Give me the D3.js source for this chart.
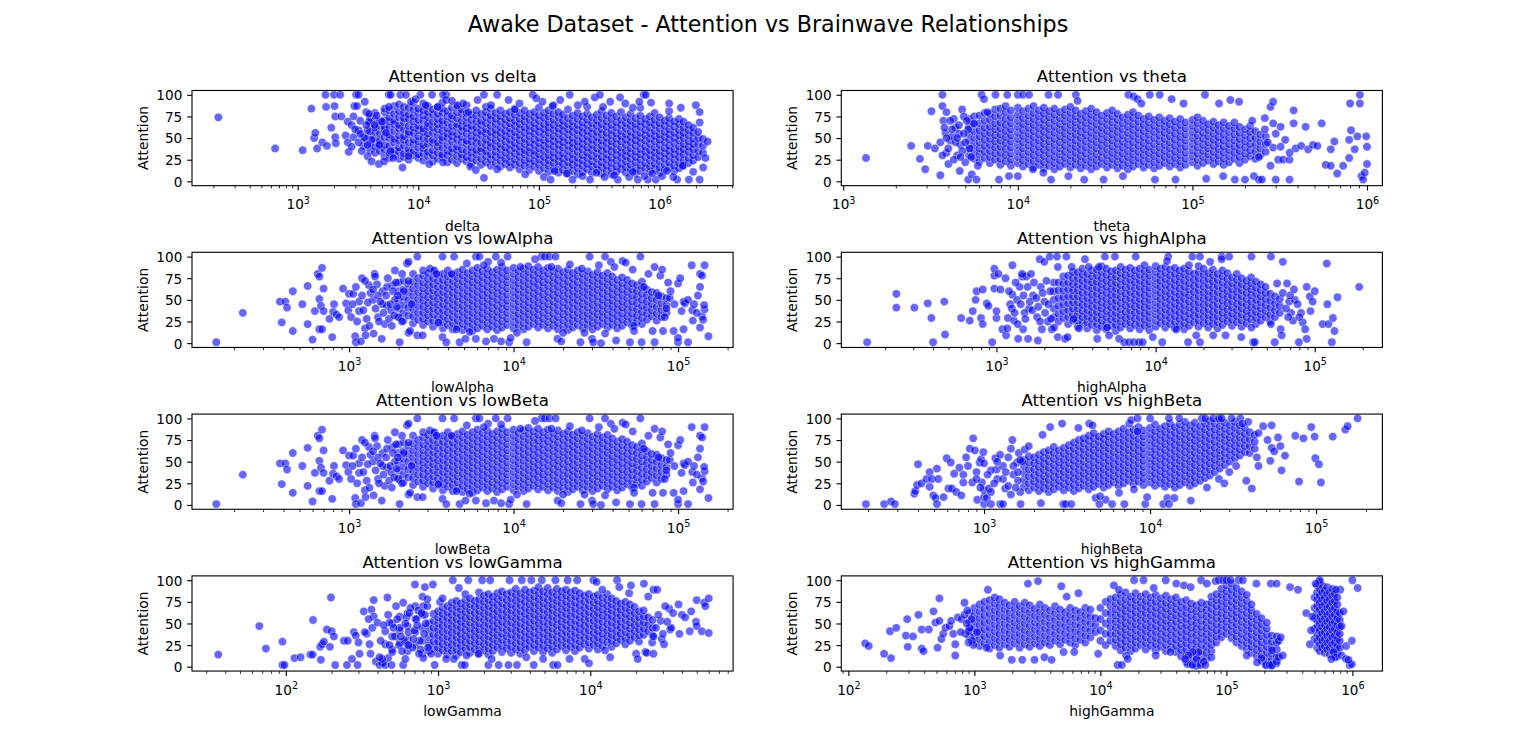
<!DOCTYPE html>
<html><head><meta charset="utf-8">
<script src="https://cdn.jsdelivr.net/npm/d3@7"></script>
<style>body{margin:0;background:#fff}svg{display:block}text{font-family:'DejaVu Sans',sans-serif}</style>
</head><body><script>
// ---------------- data (read / estimated from the reference) ----------------
const suptitle = "Awake Dataset - Attention vs Brainwave Relationships";
const bandNames = ["delta","theta","lowAlpha","highAlpha","lowBeta","highBeta","lowGamma","highGamma"];
const yTicks = [0,25,50,75,100];
const yDomain = [-5,105];
const xDomains = {
  delta:[133,4.07e6], theta:[975,1.225e6], lowAlpha:[111,2.16e5], highAlpha:[106,2.66e5],
  lowBeta:[111,2.16e5], highBeta:[138,2.51e5], lowGamma:[24.2,8.67e4], highGamma:[87.9,1.73e6]
};

// isolated points: [band value, Attention]
const deltaScatter = [
[2.2e2,74],[6.5e2,38],[1.1e3,36],[1.3e3,84],[1.37e3,50],[1.4e3,56],[1.45e3,38],[1.6e3,45],[1.7e3,100],[1.72e3,86],[1.75e3,41],[1.9e3,62],[2.0e3,100],[2.02e3,87],[2.05e3,75],[2.05e3,51],[2.07e3,44],[2.25e3,100],[2.3e3,75],[2.5e3,53],[2.65e3,34],[2.6e3,69],[2.8e3,65],[2.9e3,51],[2.95e3,87],[3.05e3,100],[3.2e3,100],[3.1e3,87],[3.2e3,59],[3.5e3,51],[3.5e3,41],[3.6e3,92],[3.7e3,80],[3.8e3,29],[3.8e3,59],[3.9e3,69],[4.1e3,23],[4.1e3,48],[4.35e3,65],[4.5e3,76],[4.7e3,20],[4.75e3,42],[5.0e3,69],[5.2e3,23],[5.4e3,56],[5.7e3,100],[5.9e3,100],[5.7e3,86],[5.9e3,35],[6.2e3,27],[7.1e3,100],[7.4e3,16],[7.9e3,100],[8.3e3,29],[8.7e3,92],[1.04e4,100],[1.23e4,20],[1.3e4,100],[1.45e4,86],[1.6e4,22],[1.7e4,100],[1.6e4,100],[1.7e4,94],[2.1e4,88],[2.6e4,80],[2.7e4,17],[3.0e4,13],[3.1e4,94],[3.5e4,4],[3.5e4,100],[4.5e4,100],[4.5e4,14],[5.6e4,94],[6.3e4,83],[7.7e4,8],[8.9e4,100],[1.07e5,92],[1.1e5,5],[1.25e5,2],[1.5e5,94],[1.8e5,100],[1.9e5,2],[2.4e5,92],[2.65e5,2],[2.9e5,97],[3.2e5,100],[3.5e5,5],[3.9e5,92],[4.5e5,2],[4.7e5,97],[5.6e5,5],[6.6e5,2],[6.8e5,92],[7.4e5,100],[7.7e5,100],[8.0e5,2],[9.3e5,2],[1.05e6,6],[1.4e6,2],[1.75e6,2],[2.15e6,2],[2.0e6,88],[2.15e6,80],[2.15e6,68],[2.5e6,46],[2.4e6,27],[2.3e6,16],[1.9e6,11],[1.55e6,18],
[9.5e3,95],[1.15e4,88],[1.9e4,93],[2.35e4,90],[4.0e4,88],[6.9e4,90],[9.5e4,96],[1.3e5,87],[2.1e5,88],[3.4e5,86],[5.2e5,90],[6.0e5,85],[8.5e5,91],[1.2e6,90],[1.5e6,85],
[1.35e5,12],[1.7e5,9],[2.3e5,6],[3.0e5,10],[4.2e5,7],[6.0e5,11],[7.5e5,6],[8.7e5,9],[1.15e6,12],[1.3e6,5],
[2.6e3,45],[2.8e3,40],[3.0e3,60],[3.2e3,45],[3.3e3,70],[3.4e3,35],[3.6e3,50],[3.7e3,65],[3.8e3,42],[3.9e3,78],[3.3e3,55],[2.9e3,75]
];
// dense cloud, listed as [band value, [Attention values at that value]]
const deltaColumns = [
[3.98e3,[36,44,53,58,67,74]],[4.37e3,[33,40,49,57,62,71,79]],[4.79e3,[35,43,47,55,64,70]],[5.25e3,[29,37,42,51,59,63,71,80,84]],
[5.75e3,[27,33,41,50,54,62,69,74,82]],[6.31e3,[31,36,45,49,58,66,70,78,87]],[6.92e3,[26,34,39,47,53,61,65,74,81,89]],
[7.59e3,[28,32,41,48,52,60,68,73,79,86]],[8.32e3,[25,33,37,45,54,57,64,72,77,85]],[9.12e3,[30,35,43,48,56,62,69,75,83,91]],
[1.0e4,[27,31,39,46,52,59,64,71,79,84]],[1.1e4,[24,32,38,42,50,57,61,70,76,82,90]],[1.2e4,[29,34,43,49,55,63,67,74,80,87]],
[1.32e4,[23,30,36,44,48,56,62,69,77,83]],[1.45e4,[26,33,40,45,53,60,66,72,78,86]],[1.58e4,[28,31,39,47,51,58,65,70,79,84,91]],
[1.74e4,[22,30,35,42,50,55,61,68,75,81]],[1.9e4,[25,33,38,46,52,57,64,72,76,85]],[2.09e4,[21,29,36,40,48,54,62,66,73,80,87]],
[2.29e4,[26,31,37,45,51,58,63,70,78,83]],[2.51e4,[23,28,35,43,47,55,61,67,74,79,88]],[2.75e4,[20,27,33,39,46,52,59,64,71,77]],
[3.02e4,[24,31,36,44,50,56,62,69,76,82]],[3.31e4,[19,26,34,38,45,53,58,65,70,78]],[3.63e4,[22,29,35,42,48,55,60,67,74,80,86]],
[3.98e4,[18,25,31,39,44,51,57,64,71,76,84]],[4.37e4,[21,28,34,40,47,54,59,66,72,79]],[4.79e4,[17,24,30,37,43,50,56,62,69,75,82]],
[5.25e4,[20,26,33,39,46,52,58,65,71,78]],[5.75e4,[16,22,29,36,42,48,55,61,67,73,80]],[6.31e4,[19,25,32,38,44,51,57,64,70,77,84]],
[6.92e4,[14,21,28,34,40,47,53,60,66,72,79]],[7.59e4,[18,24,31,36,43,49,56,62,69,75,82]],[8.32e4,[13,20,26,33,39,45,52,58,64,71,78]],
[9.12e4,[17,23,30,35,42,48,55,61,67,74,80]],[1.0e5,[12,19,25,31,38,44,50,57,63,70,76,85]],[1.1e5,[15,22,28,35,41,47,54,60,66,73,79]],
[1.2e5,[11,18,24,30,37,43,49,56,62,68,75,82]],[1.32e5,[14,21,27,33,40,46,52,59,65,71,78,88]],[1.45e5,[10,17,23,29,36,42,48,55,61,67,74,80]],
[1.58e5,[13,20,26,32,39,45,51,58,64,70,77]],[1.74e5,[9,16,22,28,35,41,47,54,60,66,73,83]],[1.9e5,[12,19,25,31,38,44,50,57,63,69,76]],
[2.09e5,[8,15,21,27,34,40,46,53,59,65,72,79]],[2.29e5,[11,18,24,30,37,43,49,56,62,68,75]],[2.51e5,[14,20,27,33,39,46,52,58,65,71,78,86]],
[2.75e5,[10,17,23,29,36,42,48,55,61,67,74]],[3.02e5,[13,19,26,32,38,45,51,57,64,70,77]],[3.31e5,[9,16,22,28,35,41,47,54,60,66,73,81]],
[3.63e5,[12,18,25,31,37,44,50,56,63,69,76]],[3.98e5,[8,15,21,27,34,40,46,53,59,65,72,79]],[4.37e5,[11,17,24,30,36,43,49,55,62,68,75]],
[4.79e5,[14,20,27,33,39,46,52,58,65,71,80]],[5.25e5,[10,16,23,29,35,42,48,54,61,67,74]],[5.75e5,[13,19,26,32,38,45,51,57,64,70,78]],
[6.31e5,[9,15,22,28,34,41,47,53,60,66,73]],[6.92e5,[12,18,25,31,37,44,50,56,63,69,76,85]],[7.59e5,[15,21,28,34,40,47,53,59,66,72]],
[8.32e5,[11,17,24,30,36,43,49,55,62,68,75]],[9.12e5,[14,20,27,33,39,46,52,58,65,71,79]],[1.0e6,[10,16,23,29,35,42,48,54,61,67,74]],
[1.1e6,[13,19,26,32,38,45,51,57,64,70]],[1.2e6,[16,22,29,35,41,48,54,60,67,73,81]],[1.32e6,[12,18,25,31,37,44,50,56,63,69]],
[1.45e6,[15,21,28,34,40,47,53,59,66,72]],[1.58e6,[18,24,31,37,43,50,56,62,69]],[1.74e6,[21,27,34,40,46,53,59,65]],
[1.9e6,[24,30,37,43,49,56,62]],[2.09e6,[28,35,43,50,57]],[2.29e6,[33,41,49]]
];

const thetaScatter = [
[1.35e3,27],[2.45e3,41],[2.75e3,26],[2.95e3,14],[3.05e3,41],[3.2e3,81],[3.35e3,38],[3.6e3,7],[3.7e3,87],[3.7e3,100],[3.75e3,70],[3.85e3,56],[3.9e3,80],[4.0e3,20],[4.1e3,47],[4.4e3,62],[4.65e3,12],[4.8e3,83],[5.0e3,22],[5.2e3,2],[5.3e3,38],[5.45e3,8],[5.6e3,67],[5.8e3,2],[5.9e3,18],[6.2e3,100],[6.4e3,95],[6.7e3,80],[7.45e3,100],[7.8e3,2],[8.7e3,100],[8.9e3,6],[1.0e4,100],[1.0e4,6],[1.07e4,100],[1.16e4,100],[1.22e4,14],[1.4e4,10],[1.5e4,100],[1.55e4,2],[1.7e4,100],[1.95e4,6],[2.15e4,100],[2.2e4,93],[2.4e4,2],[3.1e4,2],[4.0e4,6],[4.3e4,100],[4.6e4,98],[4.85e4,95],[5.1e4,90],[5.7e4,100],[6.1e4,2],[6.5e4,100],[7.6e4,95],[8.0e4,2],[8.9e4,90],[1.18e5,100],[1.2e5,3],[1.42e5,90],[1.5e5,6],[1.65e5,94],[1.75e5,2],[1.85e5,92],[2.0e5,2],[2.25e5,6],[2.4e5,2],[2.5e5,2],[2.8e5,86],[2.9e5,92],[3.0e5,2],[3.6e5,2],[3.8e5,82],[2.9e5,67],[2.6e5,73],[3.2e5,63],[3.8e5,67],[4.45e5,63],[2.9e5,39],[3.1e5,25],[3.3e5,25],[3.6e5,25],[2.8e5,18],[3.9e5,38],[4.2e5,41],[4.6e5,37],[4.9e5,42],[5.2e5,41],[5.5e5,67],[5.8e5,19],[6.2e5,18],[6.2e5,37],[6.5e5,46],[6.75e5,9],[7.3e5,18],[7.9e5,27],[8.0e5,90],[8.1e5,59],[8.5e5,37],[8.8e5,52],[9.1e5,100],[9.1e5,90],[9.3e5,6],[9.5e5,2],[9.7e5,10],[1.0e6,40],[1.0e6,20],[9.9e5,52],[7.9e5,48],
[4.3e3,72],[4.5e3,30],[4.6e3,55],[4.7e3,42],[4.9e3,75],[5.2e3,60],[5.4e3,28],[3.9e3,33],[4.2e3,52],
[2.2e5,70],[2.4e5,28],[2.7e5,45],[3.0e5,55],[3.4e5,48],[3.6e5,33],[2.6e5,60],[3.2e5,40],
[3.6e3,45],[3.8e3,62],[4.0e3,38],[4.1e3,70],[4.3e3,25],[4.4e3,45],[4.6e3,65],[4.8e3,35],[4.9e3,55],[5.0e3,45],[4.5e3,50],[4.2e3,60],[3.9e3,50],[4.7e3,28],[5.1e3,70],[3.7e3,30]
];
const thetaColumns = [
[5.25e3,[30,38,47,55,63,72]],[5.62e3,[26,34,42,50,58,66,75]],[6.03e3,[23,31,38,45,52,59,67,76]],[6.46e3,[27,34,41,48,55,62,70,79]],
[6.92e3,[21,28,35,42,49,56,63,71,78]],[7.41e3,[25,32,39,46,53,60,67,75,83]],[7.94e3,[19,26,33,40,47,54,61,68,76,84]],
[8.51e3,[23,30,37,44,51,58,65,72,80,87]],[9.12e3,[18,25,32,39,46,53,60,67,74,82]],[1.0e4,[21,28,35,42,49,56,63,70,77,85]],
[1.07e4,[17,24,31,38,45,52,59,66,73,81]],[1.15e4,[20,27,34,41,48,55,62,69,76,84]],[1.23e4,[16,23,30,37,44,51,58,65,72,79,87]],
[1.32e4,[19,26,33,40,47,54,61,68,75,82]],[1.41e4,[15,22,29,36,43,50,57,64,71,78,85]],[1.51e4,[18,25,32,39,46,53,60,67,74,81]],
[1.62e4,[14,21,28,35,42,49,56,63,70,77,84]],[1.74e4,[17,24,31,38,45,52,59,66,73,80]],[1.86e4,[20,27,34,41,48,55,62,69,76,83]],
[2.0e4,[16,23,30,37,44,51,58,65,72,79,86]],[2.14e4,[19,26,33,40,47,54,61,68,75,82]],[2.29e4,[15,22,29,36,43,50,57,64,71,78]],
[2.45e4,[18,25,32,39,46,53,60,67,74,81]],[2.63e4,[14,21,28,35,42,49,56,63,70,77,84]],[2.82e4,[17,24,31,38,45,52,59,66,73,80]],
[3.02e4,[20,27,34,41,48,55,62,69,76]],[3.24e4,[16,23,30,37,44,51,58,65,72,79]],[3.47e4,[19,26,33,40,47,54,61,68,75,82]],
[3.72e4,[15,22,29,36,43,50,57,64,71,78]],[3.98e4,[18,25,32,39,46,53,60,67,74]],[4.27e4,[14,21,28,35,42,49,56,63,70,77]],
[4.57e4,[17,24,31,38,45,52,59,66,73,80]],[4.9e4,[20,27,34,41,48,55,62,69,76]],[5.25e4,[16,23,30,37,44,51,58,65,72]],
[5.62e4,[19,26,33,40,47,54,61,68,75]],[6.03e4,[15,22,29,36,43,50,57,64,71]],[6.46e4,[18,25,32,39,46,53,60,67,74]],
[6.92e4,[21,28,35,42,49,56,63,70]],[7.41e4,[17,24,31,38,45,52,59,66,73]],[7.94e4,[20,27,34,41,48,55,62,69]],
[8.51e4,[16,23,30,37,44,51,58,65,72]],[9.12e4,[19,26,33,40,47,54,61,68]],[1.0e5,[22,29,36,43,50,57,64,71]],
[1.07e5,[18,25,32,39,46,53,60,67,74]],[1.15e5,[21,28,35,42,49,56,63,70]],[1.23e5,[24,31,38,45,52,59,66]],
[1.32e5,[20,27,34,41,48,55,62,69]],[1.41e5,[23,30,37,44,51,58,65]],[1.51e5,[19,26,33,40,47,54,61,68]],
[1.62e5,[22,29,36,43,50,57,64]],[1.74e5,[26,33,40,47,54,61,68]],[1.86e5,[21,28,35,42,49,56,63]],
[2.0e5,[25,32,39,46,53,60]],[2.14e5,[29,36,43,50,57,64]],[2.29e5,[26,34,42,50,58]],[2.45e5,[30,38,46,54]],[2.63e5,[34,43,52]]
];

const lowAlphaScatter = [
[1.56e2,1],[2.26e2,35],[3.8e2,48],[4.1e2,48],[4.2e2,41],[3.9e2,24],[4.55e2,14],[4.55e2,60],[5.2e2,45],[5.6e2,22],[5.6e2,66],[6.0e2,4],[6.2e2,37],[6.45e2,80],[6.6e2,77],[6.85e2,87],[6.6e2,16],[6.85e2,16],[6.6e2,51],[6.75e2,43],[7.0e2,63],[7.0e2,37],[7.6e2,28],[7.9e2,7],[8.1e2,45],[8.0e2,36],[8.4e2,33],[8.7e2,30],[9.2e2,63],[9.6e2,46],[1.0e3,57],[9.9e2,38],[1.03e3,30],[1.06e3,57],[1.09e3,8],[1.1e3,1],[1.15e3,37],[1.18e3,2],[1.15e3,48],[1.2e3,75],[1.25e3,17],[1.26e3,9],[1.28e3,28],[1.32e3,67],[1.4e3,50],[1.43e3,80],[1.44e3,77],[1.41e3,11],[1.5e3,30],[1.58e3,5],[1.6e3,60],[1.65e3,22],[1.7e3,43],[1.84e3,67],[1.9e3,84],[2.0e3,30],[2.03e3,1],[2.1e3,80],[2.25e3,92],[2.3e3,94],[2.3e3,12],[2.35e3,14],[2.6e3,100],[2.6e3,9],[2.8e3,9],[3.1e3,86],[3.3e3,84],[3.5e3,24],[3.7e3,100],[3.7e3,7],[3.9e3,1],[4.35e3,100],[4.5e3,16],[4.7e3,1],[5.1e3,5],[5.4e3,13],[5.9e3,100],[6.2e3,100],[5.9e3,5],[6.8e3,2],[7.0e3,94],[7.8e3,100],[7.6e3,5],[8.4e3,2],[9.2e3,100],[9.4e3,1],[9.6e3,6],[1.05e4,12],[1.2e4,1],[1.48e4,100],[1.55e4,100],[1.65e4,100],[1.8e4,100],[1.85e4,5],[1.95e4,2],[2.0e4,12],[2.55e4,1],[2.7e4,12],[2.9e4,100],[3.0e4,5],[3.05e4,1],[3.4e4,0],[3.6e4,100],[3.6e4,11],[4.2e4,3],[3.9e4,94],[4.6e4,95],[5.1e4,1],[5.4e4,20],[5.4e4,14],[5.9e4,100],[6.0e4,1],[6.2e4,65],[6.6e4,80],[7.2e4,1],[7.2e4,88],[7.8e4,78],[8.0e4,85],[7.0e4,14],[8.1e4,14],[8.9e4,52],[9.4e4,14],[1.0e5,1],[1.0e5,6],[1.0e5,69],[1.03e5,75],[1.05e5,37],[1.08e5,16],[1.08e5,48],[1.1e5,46],[1.15e5,1],[1.15e5,50],[1.21e5,90],[1.22e5,38],[1.23e5,26],[1.36e5,80],[1.36e5,65],[1.32e5,55],[1.36e5,18],[1.4e5,31],[1.45e5,90],[1.4e5,78],[1.45e5,39],[1.42e5,27],[1.53e5,8],[1.44e5,44],
[1.5e3,55],[1.7e3,65],[1.8e3,38],[1.9e3,50],[2.1e3,25],[2.15e3,60],[2.3e3,72],[2.4e3,45],[1.75e3,28],[1.6e3,45],
[3.4e3,80],[4.2e3,80],[5.2e3,92],[6.6e3,90],[8.4e3,93],[1.1e4,88],[1.35e4,97],[1.7e4,88],[2.2e4,91],[2.6e4,86],[3.3e4,90],[4.1e4,88],[5.3e4,85],[4.8e4,93],
[8.5e4,40],[9.0e4,60],[8.3e4,30],[9.5e4,45],[8.7e4,70],[1.25e5,45],[1.3e5,35],[7.6e4,55],
[1.05e3,45],[1.1e3,65],[1.12e3,25],[1.2e3,55],[1.22e3,38],[1.3e3,47],[1.33e3,20],[1.35e3,58],[1.45e3,40],[1.48e3,68],[1.52e3,25],[1.55e3,48],[1.62e3,35],[1.68e3,55],[1.72e3,75],[1.78e3,45],[1.82e3,20],[1.85e3,60],[1.88e3,32],[1.93e3,70],[1.95e3,42],[1.98e3,55],[1.4e3,62],[1.25e3,72]
];
const lowAlphaColumns = [
[2.0e3,[30,40,50,60,70]],[2.14e3,[26,35,44,53,62,72]],[2.29e3,[32,41,50,59,68]],[2.45e3,[23,31,39,47,55,63,71,80]],
[2.63e3,[27,35,43,51,59,67,75]],[2.82e3,[21,28,35,42,49,56,63,70,78,84]],[3.02e3,[25,32,39,46,53,60,67,74,81]],
[3.24e3,[19,26,33,40,47,54,61,68,75,83]],[3.47e3,[23,30,37,44,51,58,65,72,79]],[3.72e3,[17,24,31,38,45,52,59,66,73,80]],
[3.98e3,[21,28,35,42,49,56,63,70,77,84]],[4.27e3,[16,23,30,37,44,51,58,65,72,79]],[4.57e3,[19,26,33,40,47,54,61,68,75,82]],
[4.9e3,[15,22,29,36,43,50,57,64,71,78,85]],[5.25e3,[18,25,32,39,46,53,60,67,74,81]],[5.62e3,[14,21,28,35,42,49,56,63,70,77,84]],
[6.03e3,[17,24,31,38,45,52,59,66,73,80,87]],[6.46e3,[20,27,34,41,48,55,62,69,76,83]],[6.92e3,[16,23,30,37,44,51,58,65,72,79,86]],
[7.41e3,[19,26,33,40,47,54,61,68,75,82]],[7.94e3,[15,22,29,36,43,50,57,64,71,78,85]],[8.51e3,[18,25,32,39,46,53,60,67,74,81,88]],
[9.12e3,[21,28,35,42,49,56,63,70,77,84]],[1.0e4,[17,24,31,38,45,52,59,66,73,80,87]],[1.07e4,[20,27,34,41,48,55,62,69,76,83]],
[1.15e4,[16,23,30,37,44,51,58,65,72,79,86]],[1.23e4,[19,26,33,40,47,54,61,68,75,82,89]],[1.32e4,[22,29,36,43,50,57,64,71,78,85]],
[1.41e4,[18,25,32,39,46,53,60,67,74,81,88]],[1.51e4,[21,28,35,42,49,56,63,70,77,84]],[1.62e4,[17,24,31,38,45,52,59,66,73,80,87]],
[1.74e4,[20,27,34,41,48,55,62,69,76,83]],[1.86e4,[16,23,30,37,44,51,58,65,72,79,86]],[2.0e4,[19,26,33,40,47,54,61,68,75,82]],
[2.14e4,[15,22,29,36,43,50,57,64,71,78,85]],[2.29e4,[18,25,32,39,46,53,60,67,74,81]],[2.45e4,[21,28,35,42,49,56,63,70,77,84]],
[2.63e4,[17,24,31,38,45,52,59,66,73,80]],[2.82e4,[20,27,34,41,48,55,62,69,76,83]],[3.02e4,[16,23,30,37,44,51,58,65,72,79]],
[3.24e4,[19,26,33,40,47,54,61,68,75,82]],[3.47e4,[22,29,36,43,50,57,64,71,78]],[3.72e4,[18,25,32,39,46,53,60,67,74,81]],
[3.98e4,[21,28,35,42,49,56,63,70,77]],[4.27e4,[17,24,31,38,45,52,59,66,73]],[4.57e4,[20,27,34,41,48,55,62,69,76]],
[4.9e4,[24,31,38,45,52,59,66,73]],[5.25e4,[20,27,34,41,48,55,62,69]],[5.62e4,[25,32,39,46,53,60,67]],
[6.03e4,[22,29,36,43,50,57,64,71]],[6.46e4,[27,34,41,48,55,62]],[6.92e4,[31,38,45,52,59]],[7.41e4,[26,34,42,50,58]],
[7.94e4,[30,38,46,54]],[8.51e4,[35,44,52]]
];

const highAlphaScatter = [
[1.54e2,1],[2.35e2,57],[2.35e2,41],[3.05e2,41],[3.7e2,46],[3.9e2,29],[4.0e2,1],[4.7e2,48],[4.75e2,10],[6.0e2,29],[6.8e2,26],[7.1e2,37],[7.4e2,50],[7.5e2,60],[8.0e2,29],[8.2e2,62],[8.2e2,22],[8.7e2,46],[8.9e2,43],[9.4e2,1],[9.7e2,78],[9.7e2,86],[9.7e2,63],[1.0e3,29],[1.0e3,37],[1.03e3,80],[1.06e3,62],[1.09e3,16],[1.14e3,75],[1.15e3,9],[1.17e3,17],[1.18e3,29],[1.22e3,45],[1.26e3,90],[1.26e3,56],[1.29e3,26],[1.37e3,5],[1.4e3,65],[1.45e3,77],[1.47e3,16],[1.54e3,77],[1.58e3,5],[1.65e3,80],[1.82e3,3],[1.87e3,97],[1.93e3,16],[2.0e3,94],[2.16e3,100],[2.23e3,16],[2.3e3,18],[2.4e3,100],[2.43e3,88],[2.43e3,7],[2.7e3,5],[2.75e3,100],[2.8e3,7],[2.97e3,88],[3.05e3,28],[3.3e3,17],[3.6e3,97],[3.8e3,88],[4.3e3,5],[4.4e3,88],[4.8e3,100],[4.95e3,18],[5.1e3,9],[5.55e3,100],[5.9e3,5],[6.35e3,1],[6.8e3,1],[7.3e3,1],[7.85e3,1],[8.3e3,1],[7.5e3,100],[9.6e3,7],[1.1e4,1],[1.2e4,100],[1.18e4,95],[1.35e4,16],[1.6e4,1],[1.7e4,100],[1.8e4,9],[1.9e4,100],[1.9e4,1],[2.2e4,94],[2.3e4,9],[2.6e4,100],[2.6e4,97],[2.75e4,9],[2.9e4,100],[3.45e4,7],[4.0e4,100],[4.1e4,1],[4.2e4,1],[4.0e4,18],[5.3e4,100],[5.3e4,22],[5.6e4,1],[6.1e4,16],[6.2e4,9],[6.3e4,94],[5.8e4,69],[6.3e4,58],[6.7e4,69],[6.9e4,48],[7.1e4,35],[7.3e4,26],[7.5e4,50],[7.95e4,1],[8.2e4,35],[8.4e4,24],[8.7e4,16],[8.9e4,5],[8.9e4,65],[9.3e4,54],[9.4e4,37],[1.0e5,60],[1.12e5,22],[1.19e5,92],[1.22e5,22],[1.2e5,45],[1.28e5,1],[1.3e5,29],[1.33e5,14],[1.39e5,53],[1.9e5,65],[9.7e4,48],
[1.6e3,40],[1.7e3,55],[1.8e3,30],[1.9e3,65],[2.0e3,48],[2.1e3,25],[1.5e3,35],[1.35e3,50],[1.25e3,40],
[6.6e4,40],[7.0e4,55],[7.8e4,45],[8.0e4,30],[6.8e4,30],[7.4e4,62],
[1.2e3,60],[1.3e3,35],[1.32e3,70],[1.42e3,45],[1.48e3,55],[1.52e3,28],[1.57e3,65],[1.62e3,48],[1.68e3,38],[1.72e3,70],[1.78e3,52],[1.83e3,42],[1.88e3,25],[1.95e3,58],[2.02e3,35],[2.06e3,72],[2.12e3,45],[2.18e3,60],[2.2e3,28],[1.36e3,22],[1.45e3,80]
];
const highAlphaColumns = [
[2.29e3,[30,40,50,60,70]],[2.45e3,[25,34,43,52,61,70]],[2.63e3,[29,37,45,53,61,69,77]],[2.82e3,[22,30,38,46,54,62,70,78]],
[3.02e3,[26,33,40,47,54,61,68,75,82]],[3.24e3,[19,26,33,40,47,54,61,68,75,82]],[3.47e3,[23,30,37,44,51,58,65,72,79,86]],
[3.72e3,[17,24,31,38,45,52,59,66,73,80]],[3.98e3,[21,28,35,42,49,56,63,70,77,84]],[4.27e3,[15,22,29,36,43,50,57,64,71,78,85]],
[4.57e3,[19,26,33,40,47,54,61,68,75,82,89]],[4.9e3,[16,23,30,37,44,51,58,65,72,79,86]],[5.25e3,[20,27,34,41,48,55,62,69,76,83]],
[5.62e3,[14,21,28,35,42,49,56,63,70,77,84]],[6.03e3,[18,25,32,39,46,53,60,67,74,81,88]],[6.46e3,[22,29,36,43,50,57,64,71,78,85]],
[6.92e3,[17,24,31,38,45,52,59,66,73,80,87]],[7.41e3,[21,28,35,42,49,56,63,70,77,84]],[7.94e3,[16,23,30,37,44,51,58,65,72,79,86]],
[8.51e3,[20,27,34,41,48,55,62,69,76,83,90]],[9.12e3,[15,22,29,36,43,50,57,64,71,78,85]],[1.0e4,[19,26,33,40,47,54,61,68,75,82,89]],
[1.07e4,[23,30,37,44,51,58,65,72,79,86]],[1.15e4,[18,25,32,39,46,53,60,67,74,81,88]],[1.23e4,[22,29,36,43,50,57,64,71,78,85]],
[1.32e4,[17,24,31,38,45,52,59,66,73,80,87]],[1.41e4,[21,28,35,42,49,56,63,70,77,84]],[1.51e4,[16,23,30,37,44,51,58,65,72,79,86]],
[1.62e4,[20,27,34,41,48,55,62,69,76,83,90]],[1.74e4,[24,31,38,45,52,59,66,73,80]],[1.86e4,[19,26,33,40,47,54,61,68,75,82,89]],
[2.0e4,[23,30,37,44,51,58,65,72,79,86]],[2.14e4,[18,25,32,39,46,53,60,67,74,81]],[2.29e4,[22,29,36,43,50,57,64,71,78,85]],
[2.45e4,[17,24,31,38,45,52,59,66,73,80]],[2.63e4,[21,28,35,42,49,56,63,70,77,84]],[2.82e4,[25,32,39,46,53,60,67,74,81]],
[3.02e4,[20,27,34,41,48,55,62,69,76]],[3.24e4,[24,31,38,45,52,59,66,73,80]],[3.47e4,[19,26,33,40,47,54,61,68,75]],
[3.72e4,[23,30,37,44,51,58,65,72]],[3.98e4,[27,34,41,48,55,62,69,76]],[4.27e4,[22,29,36,43,50,57,64,71]],
[4.57e4,[26,33,40,47,54,61,68]],[4.9e4,[30,37,44,51,58,65]],[5.25e4,[25,33,41,49,57]],[5.62e4,[30,38,46,54]],[6.03e4,[35,43,51]]
];

// the lowBeta panel shows exactly the same cloud as lowAlpha
const lowBetaScatter = lowAlphaScatter;
const lowBetaColumns = lowAlphaColumns;

const highBetaScatter = [
[1.94e2,1],[2.5e2,1],[2.75e2,4],[2.9e2,1],[3.8e2,13],[3.85e2,16],[4.0e2,47],[3.95e2,23],[4.2e2,25],[4.5e2,30],[4.7e2,38],[4.7e2,21],[4.85e2,30],[4.95e2,11],[5.1e2,8],[5.2e2,42],[5.3e2,30],[5.2e2,1],[5.7e2,9],[5.95e2,54],[6.1e2,19],[6.3e2,49],[6.4e2,19],[6.6e2,36],[6.8e2,15],[7.1e2,43],[7.3e2,11],[7.5e2,26],[7.8e2,55],[8.2e2,65],[8.5e2,26],[8.6e2,77],[8.8e2,63],[9.0e2,38],[9.1e2,6],[9.4e2,49],[9.6e2,53],[9.7e2,26],[9.9e2,61],[1.0e3,1],[1.0e3,9],[1.0e3,17],[1.04e3,8],[1.07e3,19],[1.1e3,1],[1.17e3,54],[1.19e3,41],[1.25e3,1],[1.3e3,1],[1.34e3,19],[1.45e3,65],[1.48e3,75],[1.66e3,1],[1.58e3,49],[1.62e3,60],[1.76e3,64],[1.86e3,68],[2.2e3,2],[2.25e3,81],[2.5e3,90],[2.95e3,94],[3.0e3,1],[3.1e3,1],[3.35e3,1],[3.7e3,89],[4.3e3,94],[4.5e3,92],[4.7e3,8],[4.95e3,1],[5.4e3,6],[5.9e3,1],[7.0e3,1],[7.5e3,94],[7.7e3,98],[8.4e3,85],[8.4e3,100],[9.35e3,1],[9.6e3,9],[1.0e4,100],[1.2e4,1],[1.27e4,8],[1.3e4,1],[1.4e4,8],[1.3e4,100],[1.5e4,100],[1.76e4,5],[2.05e4,100],[2.15e4,100],[2.4e4,100],[2.6e4,100],[2.7e4,100],[3.1e4,100],[3.5e4,100],[3.6e4,94],[3.9e4,96],[3.8e4,28],[4.1e4,19],[4.5e4,83],[4.5e4,45],[4.8e4,91],[5.1e4,75],[5.3e4,51],[5.4e4,92],[5.4e4,66],[5.6e4,62],[5.9e4,78],[6.1e4,68],[6.2e4,40],[6.5e4,57],[7.5e4,80],[7.9e4,27],[8.4e4,77],[9.35e4,90],[9.8e4,79],[9.9e4,54],[1.04e5,47],[1.07e5,26],[1.26e5,79],[1.5e5,87],[1.55e5,91],[1.78e5,100],
[1.2e3,30],[1.3e3,45],[1.4e3,22],[1.5e3,35],[1.6e3,28],[1.7e3,50],[1.1e3,40],[1.25e3,58],[1.45e3,12],[1.65e3,15],
[5.0e3,10],[6.5e3,14],[8.0e3,18],[2.2e4,20],[2.6e4,30],[3.3e4,45],[4.4e4,55],[3.0e4,38],[2.8e4,25],
[7.5e2,35],[8.0e2,45],[9.0e2,30],[1.0e3,48],[1.05e3,35],[1.15e3,25],[1.2e3,50],[1.3e3,30],[1.35e3,38],[1.4e3,55],[1.5e3,45],[1.55e3,20],[1.6e3,38],[1.65e3,52],[1.1e3,15],[9.5e2,20]
];
const highBetaColumns = [
[1.74e3,[21,29,37,45,52]],[1.86e3,[17,25,33,41,49,56]],[2.0e3,[20,27,34,41,48,55]],[2.14e3,[16,23,30,37,44,51,58]],
[2.29e3,[19,26,33,40,47,54,61]],[2.45e3,[15,22,29,36,43,50,57,63]],[2.63e3,[18,25,32,39,46,53,60,67]],[2.82e3,[21,28,35,42,49,56,63]],
[3.02e3,[17,24,31,38,45,52,59,66]],[3.24e3,[20,27,34,41,48,55,62,69]],[3.47e3,[16,23,30,37,44,51,58,65,72]],
[3.72e3,[19,26,33,40,47,54,61,68,75]],[3.98e3,[22,29,36,43,50,57,64,71,77]],[4.27e3,[18,25,32,39,46,53,60,67,74,80]],
[4.57e3,[21,28,35,42,49,56,63,70,77,83]],[4.9e3,[24,31,38,45,52,59,66,73,79]],[5.25e3,[20,27,34,41,48,55,62,69,76,82]],
[5.62e3,[23,30,37,44,51,58,65,72,79,85]],[6.03e3,[26,33,40,47,54,61,68,75,82]],[6.46e3,[22,29,36,43,50,57,64,71,78,85]],
[6.92e3,[25,32,39,46,53,60,67,74,81,88]],[7.41e3,[28,35,42,49,56,63,70,77,84]],[7.94e3,[24,31,38,45,52,59,66,73,80,87]],
[8.51e3,[27,34,41,48,55,62,69,76,83,90]],[9.12e3,[23,30,37,44,51,58,65,72,79,86]],[1.0e4,[26,33,40,47,54,61,68,75,82,89]],
[1.07e4,[22,29,36,43,50,57,64,71,78,85,93]],[1.15e4,[25,32,39,46,53,60,67,74,81,88]],[1.23e4,[21,28,35,42,49,56,63,70,77,84,91]],
[1.32e4,[24,31,38,45,52,59,66,73,80,87,94]],[1.41e4,[20,27,34,41,48,55,62,69,76,83,90]],[1.51e4,[23,30,37,44,51,58,65,72,79,86,93]],
[1.62e4,[26,33,40,47,54,61,68,75,82,89,96]],[1.74e4,[22,29,36,43,50,57,64,71,78,85,92]],[1.86e4,[25,32,39,46,53,60,67,74,81,88,95]],
[2.0e4,[28,35,42,49,56,63,70,77,84,91]],[2.14e4,[31,38,45,52,59,66,73,80,87,94]],[2.29e4,[34,41,48,55,62,69,76,83,90,97]],
[2.45e4,[38,45,52,59,66,73,80,87,94]],[2.63e4,[42,49,56,63,70,77,84,91,98]],[2.82e4,[46,53,60,67,74,81,88,95]],
[3.02e4,[50,57,64,71,78,85,92]],[3.24e4,[54,61,68,75,82,89,96]],[3.47e4,[57,64,71,78,85,92]],[3.72e4,[61,68,75,82,89]],
[3.98e4,[60,68,76,84]],[4.27e4,[65,73,81]]
];

const lowGammaScatter = [
[36,14],[67,47],[74,21],[95,2],[98,2],[95,29],[114,10],[125,11],[145,14],[151,54],[150,14],[168,23],[173,26],[178,29],[170,8],[186,43],[198,80],[195,23],[200,41],[207,35],[211,2],[241,30],[252,2],[255,30],[272,9],[280,40],[288,36],[296,2],[300,28],[305,15],[325,64],[340,38],[355,26],[360,15],[365,66],[378,77],[378,58],[370,45],[400,51],[390,6],[413,2],[425,4],[430,5],[450,2],[470,10],[430,9],[413,11],[450,41],[450,26],[465,80],[480,51],[495,2],[500,17],[540,55],[555,25],[590,2],[590,74],[610,9],[620,57],[630,25],[705,95],[790,81],[800,70],[820,92],[900,15],[925,95],[950,2],
[520,35],[560,45],[600,30],[640,40],[680,22],[720,55],[760,30],[650,62],[580,18],[700,42],[740,65],[770,20],[820,60],[850,70],[800,10],
[330,40],[350,55],[420,30],[440,48],[470,60],[480,25],[510,45],[530,70],[570,35],[610,50],[640,25],[660,68],[690,32],[730,48],[750,15],[780,62],[810,38],[830,50],[860,22],[850,78],
[1.03e3,75],[1.07e3,79],[1.13e3,9],[1.25e3,100],[1.27e3,9],[1.37e3,91],[1.43e3,2],[1.5e3,2],[1.58e3,100],[1.54e3,13],[1.84e3,15],[1.95e3,100],[2.14e3,2],[2.2e3,100],[2.25e3,9],[2.5e3,2],[2.9e3,2],[2.95e3,100],[3.3e3,2],[3.55e3,100],[3.8e3,11],[4.25e3,2],[4.1e3,100],[4.8e3,100],[4.9e3,9],[5.7e3,2],[5.9e3,100],[6.1e3,2],[7.1e3,100],[7.3e3,9],[8.2e3,100],[9.2e3,9],[9.8e3,4],[1.05e4,100],[1.1e4,98],[1.2e4,89],[1.25e4,19],[1.35e4,11],[1.5e4,100],[1.55e4,92],[1.8e4,85],[1.85e4,94],[2.0e4,15],[2.05e4,9],[2.25e4,96],[2.3e4,17],[2.35e4,16],[2.55e4,28],[2.6e4,15],[2.6e4,89],[2.4e4,81],[2.75e4,89],[2.9e4,53],[2.95e4,32],[3.05e4,26],[3.0e4,38],[3.3e4,67],[3.35e4,43],[3.4e4,45],[3.5e4,62],[3.8e4,72],[3.85e4,38],[4.0e4,60],[4.2e4,57],[4.6e4,64],[4.5e4,41],[4.95e4,52],[5.0e4,47],[5.0e4,77],[5.4e4,41],[5.6e4,74],[5.7e4,70],[6.0e4,79],[6.0e4,39],
[2.7e4,45],[2.8e4,60],[3.1e4,70],[2.6e4,35],[3.2e4,52]
];
const lowGammaColumns = [
[5.0e2,[20,35,50]],[5.6e2,[28,42,58]],[6.3e2,[18,32,47,62]],[7.1e2,[25,40,55,70]],[7.9e2,[15,30,45,60]],
[8.71e2,[18,26,34,42,50]],[9.33e2,[21,29,37,45,53,61]],[1.0e3,[15,22,29,36,43,50,57,64]],[1.07e3,[19,26,33,40,47,54,61,68]],
[1.15e3,[14,21,28,35,42,49,56,63,70]],[1.23e3,[18,25,32,39,46,53,60,67,74]],[1.32e3,[13,20,27,34,41,48,55,62,69,76]],
[1.41e3,[17,24,31,38,45,52,59,66,73]],[1.51e3,[21,28,35,42,49,56,63,70,77,84]],[1.62e3,[16,23,30,37,44,51,58,65,72,79]],
[1.74e3,[20,27,34,41,48,55,62,69,76]],[1.86e3,[15,22,29,36,43,50,57,64,71,78,86]],[2.0e3,[19,26,33,40,47,54,61,68,75,82]],
[2.14e3,[14,21,28,35,42,49,56,63,70,77,84]],[2.29e3,[18,25,32,39,46,53,60,67,74,81]],[2.45e3,[22,29,36,43,50,57,64,71,78,85]],
[2.63e3,[17,24,31,38,45,52,59,66,73,80,87]],[2.82e3,[21,28,35,42,49,56,63,70,77,84]],[3.02e3,[16,23,30,37,44,51,58,65,72,79,86]],
[3.24e3,[20,27,34,41,48,55,62,69,76,83,90]],[3.47e3,[15,22,29,36,43,50,57,64,71,78,85]],[3.72e3,[19,26,33,40,47,54,61,68,75,82,89]],
[3.98e3,[23,30,37,44,51,58,65,72,79,86]],[4.27e3,[18,25,32,39,46,53,60,67,74,81,88]],[4.57e3,[22,29,36,43,50,57,64,71,78,85,92]],
[4.9e3,[17,24,31,38,45,52,59,66,73,80,87]],[5.25e3,[21,28,35,42,49,56,63,70,77,84,91]],[5.62e3,[16,23,30,37,44,51,58,65,72,79,86]],
[6.03e3,[20,27,34,41,48,55,62,69,76,83,90]],[6.46e3,[24,31,38,45,52,59,66,73,80,87]],[6.92e3,[19,26,33,40,47,54,61,68,75,82,89]],
[7.41e3,[23,30,37,44,51,58,65,72,79,86]],[7.94e3,[18,25,32,39,46,53,60,67,74,81,88]],[8.51e3,[22,29,36,43,50,57,64,71,78,85]],
[9.12e3,[26,33,40,47,54,61,68,75,82]],[9.77e3,[21,28,35,42,49,56,63,70,77,84]],[1.05e4,[25,32,39,46,53,60,67,74,81]],
[1.12e4,[20,27,34,41,48,55,62,69,76,83]],[1.2e4,[24,31,38,45,52,59,66,73,80]],[1.29e4,[28,35,42,49,56,63,70,77,84]],
[1.38e4,[23,30,37,44,51,58,65,72,79]],[1.48e4,[27,34,41,48,55,62,69,76]],[1.58e4,[31,38,45,52,59,66,73]],
[1.7e4,[26,33,40,47,54,61,68,75]],[1.82e4,[30,37,44,51,58,65,72]],[1.95e4,[34,41,48,55,62,69]],[2.09e4,[29,36,43,50,57,64]],
[2.24e4,[37,44,51,58,65]],[2.4e4,[41,49,57]],[2.57e4,[36,45,54]]
];

const highGammaScatter = [
[136,27],[145,24],[192,15],[218,10],[214,41],[240,45],[286,36],[296,23],[293,55],[326,35],[360,60],[382,43],[382,21],[395,18],[435,43],[474,64],[490,51],[510,22],[528,79],[528,53],[547,32],[566,38],[590,45],[635,47],[655,53],[680,38],[705,26],[705,13],[740,57],[790,55],[835,74],[835,60],[850,38],[895,41],[980,25],
[880,65],[920,45],[950,55],[960,30],[1.05e3,40],[870,50],[900,28],[780,40],
[1.28e3,89],[2.66e3,96],[3.2e3,99],[4.9e3,93],[5.4e3,81],[6.7e3,85],[1.25e3,22],[1.6e3,13],[1.98e3,8],[2.4e3,8],[3.0e3,8],[3.6e3,11],[4.1e3,8],[5.1e3,17],[6.2e3,17],[9.6e3,15],
[1.28e4,94],[1.4e4,89],[1.85e4,100],[2.2e4,100],[2.65e4,91],[3.3e4,100],[4.0e4,96],[4.6e4,94],[5.2e4,92],[6.3e4,100],[7.0e4,96],[8.2e4,99],
[1.37e4,2],[1.48e4,2],[1.6e4,13],[1.65e4,9],[4.9e4,3],[5.4e4,2],[5.8e4,9],[6.2e4,2],[6.6e4,6],[6.8e4,2],[6.0e4,17],[5.4e4,17],[5.0e4,13],[7.6e4,11],[4.7e4,9],[2.75e4,13],[3.6e4,17],
[8.7e4,100],[9.4e4,100],[1.0e5,100],[1.08e5,100],[1.25e5,100],[1.35e5,100],[1.73e5,96],[2.25e5,96],[2.05e5,2],[2.2e5,2],[2.3e5,2],[2.5e5,6],[2.6e5,11],[2.8e5,13],[2.6e5,30],[2.7e5,34],[2.3e5,19],[1.9e5,10],[1.75e5,5],[1.45e5,13],[3.2e5,92],[3.7e5,89],[2.5e5,96],[4.3e5,62],
[5.5e5,100],[5.1e5,96],[7.1e5,17],[7.4e5,11],[6.8e5,9],[8.2e5,13],[8.9e5,9],[9.5e5,2],[9.9e5,3],[9.3e5,8],[9.9e5,30],[8.9e5,24],[1.0e6,100],[1.1e6,91],[8.2e5,47],[8.5e5,64],[8.0e5,89],[7.4e5,89],[4.6e5,26],[4.7e5,42],[4.8e5,58]
];
const highGammaColumns = [
[9.12e2,[35,44,53,62]],[1.0e3,[28,36,44,52,60,68]],[1.1e3,[24,32,40,48,56,64,72]],[1.2e3,[27,35,43,51,59,67,75]],
[1.32e3,[21,29,37,45,53,61,69,77]],[1.45e3,[25,33,41,49,57,65,73,80]],[1.58e3,[22,30,38,46,54,62,70,78]],[1.74e3,[26,34,42,50,58,66,74]],
[1.9e3,[23,31,39,47,55,63,71]],[2.09e3,[27,35,43,51,59,67,75]],[2.29e3,[22,30,38,46,54,62,70]],[2.51e3,[26,34,42,50,58,66,74]],
[2.75e3,[23,31,39,47,55,63,71]],[3.02e3,[27,35,43,51,59,67]],[3.31e3,[24,32,40,48,56,64,72]],[3.63e3,[28,36,44,52,60,68]],
[3.98e3,[25,33,41,49,57,65]],[4.37e3,[30,38,46,54,62,70]],[4.79e3,[26,34,42,50,58,66]],[5.25e3,[31,39,47,55,63]],
[5.75e3,[28,36,44,52,60,68]],[6.31e3,[25,33,41,49,57,65]],[6.92e3,[31,39,47,55,63]],[7.59e3,[28,36,44,52,60,68]],
[8.32e3,[34,42,50,58,66]],[9.12e3,[40,48,56]],[1.0e4,[30,42,55,68]],[1.1e4,[25,38,50,62,75]],
[1.2e4,[30,38,46,54,62,70,78]],[1.32e4,[24,31,38,45,52,59,66,73,80]],[1.45e4,[19,26,33,40,47,54,61,68,75,83]],
[1.58e4,[22,29,36,43,50,57,64,71,78,86]],[1.74e4,[18,25,32,39,46,53,60,67,74,81]],[1.9e4,[21,28,35,42,49,56,63,70,77,85]],
[2.09e4,[25,32,39,46,53,60,67,74,81]],[2.29e4,[20,27,34,41,48,55,62,69,76,84]],[2.51e4,[24,31,38,45,52,59,66,73,80]],
[2.75e4,[19,26,33,40,47,54,61,68,75,83]],[3.02e4,[23,30,37,44,51,58,65,72,79]],[3.31e4,[18,25,32,39,46,53,60,67,74,82]],
[3.63e4,[22,29,36,43,50,57,64,71,78]],[3.98e4,[17,24,31,38,45,52,59,66,73,80]],[4.37e4,[12,19,26,33,40,47,54,61,68,75]],
[4.79e4,[6,13,20,27,34,41,48,55,62,69,77]],[5.25e4,[3,10,17,24,31,38,45,52,59,66,73]],[5.75e4,[1,8,15,22,29,36,43,50,57,64,71]],
[6.31e4,[4,11,18,25,32,39,46,53,60,67,74]],[6.92e4,[9,16,23,30,37,44,51,58,65,72]],[7.59e4,[18,25,32,39,46,53,60,67,74,81]],
[8.32e4,[28,35,42,49,56,63,70,77,84]],[9.12e4,[34,41,48,55,62,69,76,83,90]],
[1.0e5,[38,45,52,59,66,73,80,87,94]],[1.1e5,[33,40,47,54,61,68,75,82,89,96]],[1.2e5,[28,35,42,49,56,63,70,77,84,91]],
[1.32e5,[24,31,38,45,52,59,66,73,80,87]],[1.45e5,[20,27,34,41,48,55,62,69,76,83]],[1.58e5,[16,23,30,37,44,51,58,65,72]],
[1.74e5,[12,19,26,33,40,47,54,61]],[1.9e5,[7,14,21,28,35,42,49,56]],[2.09e5,[2,9,16,23,30,37,44,51]],
[2.29e5,[1,8,15,22,29,36]],[2.51e5,[4,12,20,28,35]],
[5.01e5,[32,44,56,68,80]],[5.25e5,[22,30,38,46,54,62,70,78,86,94]],[5.5e5,[18,26,34,42,50,58,66,74,82,90,98]],
[5.75e5,[22,30,38,46,54,62,70,78,86,94]],[6.03e5,[16,24,32,40,48,56,64,72,80,88]],[6.31e5,[20,28,36,44,52,60,68,76,84,92]],
[6.61e5,[14,22,30,38,46,54,62,70,78,86]],[6.92e5,[18,26,34,42,50,58,66,74,82,90]],[7.24e5,[12,20,28,36,44,52,60,68,76,84]],
[7.59e5,[16,24,32,40,48,56,64,72,80]],[7.94e5,[22,30,38,46,54,62]]
];

const scatterByBand = {delta:deltaScatter, theta:thetaScatter, lowAlpha:lowAlphaScatter, highAlpha:highAlphaScatter,
  lowBeta:lowBetaScatter, highBeta:highBetaScatter, lowGamma:lowGammaScatter, highGamma:highGammaScatter};
const columnsByBand = {delta:deltaColumns, theta:thetaColumns, lowAlpha:lowAlphaColumns, highAlpha:highAlphaColumns,
  lowBeta:lowBetaColumns, highBeta:highBetaColumns, lowGamma:lowGammaColumns, highGamma:highGammaColumns};

// ---------------- layout ----------------
const W = 1536, H = 754;
const axW = 1190.4 / 2.2, axH = 580.58 / 6.1;
const colX = [192, 192 + axW * 1.2];
const rowY = r => 90.48 + r * axH * 1.7;

const svg = d3.select('body').append('svg').attr('width', W).attr('height', H);
svg.append('rect').attr('width', W).attr('height', H).attr('fill', '#fff');
svg.append('text').attr('x', W / 2).attr('y', 31.5).attr('text-anchor', 'middle')
  .attr('font-size', 22.2).attr('fill', '#000').text(suptitle);

bandNames.forEach((name, i) => {
  const dom = xDomains[name];
  const pts = columnsByBand[name].flatMap(([v, ys]) => ys.map(a => [v, a])).concat(scatterByBand[name]);
  const x0 = colX[i % 2], y0 = rowY(Math.floor(i / 2));
  const x = d3.scaleLog().domain(dom).range([0, axW]);
  const y = d3.scaleLinear().domain(yDomain).range([axH, 0]);
  const g = svg.append('g').attr('transform', `translate(${x0},${y0})`);
  const cid = 'clip' + i;
  g.append('clipPath').attr('id', cid).append('rect').attr('width', axW).attr('height', axH);

  g.append('g').attr('clip-path', `url(#${cid})`)
    .selectAll('circle').data(pts).join('circle')
    .attr('cx', d => x(d[0])).attr('cy', d => y(d[1])).attr('r', 4.17)
    .attr('fill', '#0000ff').attr('fill-opacity', 0.6)
    .attr('stroke', '#ffffff').attr('stroke-opacity', 0.6).attr('stroke-width', 0.67);

  const lo = Math.floor(Math.log10(dom[0])), hi = Math.ceil(Math.log10(dom[1]));
  const majors = [], minors = [];
  for (let e = lo; e <= hi; e++) {
    const b = Math.pow(10, e);
    if (b >= dom[0] && b <= dom[1]) majors.push(b);
    for (let k = 2; k < 10; k++) { const v = k * b; if (v >= dom[0] && v <= dom[1]) minors.push(v); }
  }
  const gm = g.append('g').attr('transform', `translate(0,${axH})`)
    .call(d3.axisBottom(x).tickValues(minors).tickSize(2.78).tickSizeOuter(0).tickFormat(() => ''));
  gm.select('.domain').remove();
  gm.selectAll('line').attr('stroke', '#000').attr('stroke-width', 0.83);

  const gx = g.append('g').attr('transform', `translate(0,${axH})`)
    .call(d3.axisBottom(x).tickValues(majors).tickSize(4.86).tickSizeOuter(0).tickFormat(() => ''));
  gx.select('.domain').remove();
  gx.selectAll('line').attr('stroke', '#000').attr('stroke-width', 1.11);
  gx.selectAll('.tick text').attr('y', 23.7).attr('dy', null)
    .attr('font-size', 13.6).attr('font-family', 'DejaVu Sans').attr('fill', '#000')
    .each(function (d) {
      const t = d3.select(this);
      t.text(null);
      t.append('tspan').text('10');
      t.append('tspan').attr('font-size', 9.6).attr('dy', -5.8).text(String(Math.round(Math.log10(d))));
    });

  const gy = g.append('g')
    .call(d3.axisLeft(y).tickValues(yTicks).tickSize(4.86).tickPadding(4.86).tickSizeOuter(0));
  gy.select('.domain').remove();
  gy.selectAll('line').attr('stroke', '#000').attr('stroke-width', 1.11);
  gy.selectAll('text').attr('font-size', 13.6).attr('font-family', 'DejaVu Sans').attr('fill', '#000').attr('dy', '0.36em');

  g.append('rect').attr('width', axW).attr('height', axH).attr('fill', 'none')
    .attr('stroke', '#000').attr('stroke-width', 1.11);

  g.append('text').attr('x', axW / 2).attr('y', -8.33).attr('text-anchor', 'middle')
    .attr('font-size', 16.67).attr('fill', '#000').text(`Attention vs ${name}`);
  g.append('text').attr('x', axW / 2).attr('y', axH + 45).attr('text-anchor', 'middle')
    .attr('font-size', 13.9).attr('fill', '#000').text(name);
  g.append('text').attr('transform', `translate(-44.5,${axH / 2}) rotate(-90)`).attr('text-anchor', 'middle')
    .attr('font-size', 13.9).attr('fill', '#000').text('Attention');
});
</script></body></html>
